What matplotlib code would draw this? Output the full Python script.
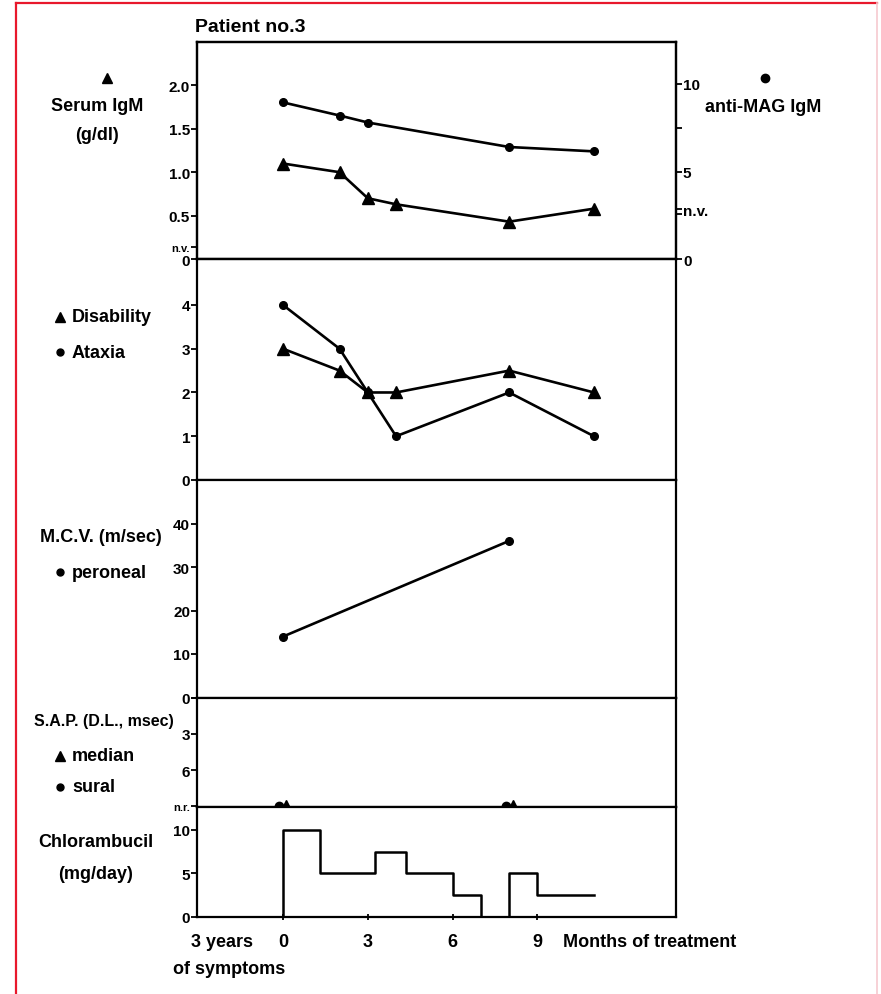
import numpy as np
import matplotlib
matplotlib.use("Agg")
import matplotlib.pyplot as plt
from matplotlib.lines import Line2D
from matplotlib.transforms import ScaledTranslation

plt.rcParams['font.family'] = ['Liberation Sans Narrow', 'Liberation Sans', 'DejaVu Sans']
plt.rcParams['font.weight'] = 'bold'

# ---------------- data ----------------
title = "Patient no.3"
months_igm = [0, 2, 3, 4, 8, 11]
serum_igm = [1.10, 1.00, 0.70, 0.63, 0.43, 0.58]          # g/dl (left axis)
months_mag = [0, 2, 3, 8, 11]
anti_mag = [8.95, 8.2, 7.8, 6.4, 6.15]                     # right axis
months_clin = [0, 2, 3, 4, 8, 11]
disability = [3, 2.5, 2, 2, 2.5, 2]
ataxia = [4, 3, 2, 1, 2, 1]
months_mcv = [0, 8]
mcv_peroneal = [14, 36]
months_sap = [0, 8]
NR_VALUE = 9                                               # "n.r." position on SAP scale
sap_median = [NR_VALUE, NR_VALUE]
sap_sural = [NR_VALUE, NR_VALUE]
chlor_edges = [0, 1.3, 3.25, 4.35, 6, 7, 8, 9, 11]
chlor_dose = [10, 5, 7.5, 5, 2.5, 0, 5, 2.5]
x_ticks = [0, 3, 6, 9]
x_ticklabels = ["0", "3", "6", "9"]

# ---------------- figure ----------------
W, H = 881, 995
fig = plt.figure(figsize=(W / 100, H / 100), dpi=100)

L, R = 197, 676
bounds = [(43, 260), (260, 481), (481, 698.5), (698.5, 808), (808, 918)]

def fx(x):
    return x / W

def fy(y):
    return 1 - y / H

axes = []
for top, bot in bounds:
    ax = fig.add_axes([fx(L), fy(bot), fx(R) - fx(L), fy(top) - fy(bot)])
    for s in ax.spines.values():
        s.set_linewidth(1.6)
    ax.set_xlim(-3.04, 13.9)
    ax.set_xticks([])
    ax.tick_params(axis='y', direction='out', length=4, width=1.3, labelsize=11, pad=1)
    axes.append(ax)

lw = 1.9
kw_tri = dict(marker='^', markersize=8, color='black', lw=lw)
kw_cir = dict(marker='o', markersize=5.5, color='black', lw=lw)

# Panel 1 : serum IgM + anti-MAG
ax1 = axes[0]
ax1.set_ylim(0, 2.5)
ax1.set_yticks([0, 0.14, 0.5, 1.0, 1.5, 2.0])
ax1.set_yticklabels(["0", "n.v.", "0.5", "1.0", "1.5", "2.0"])
ax1.get_yticklabels()[1].set_fontsize(8)
ax1.plot(months_igm, serum_igm, **kw_tri)
ax1r = ax1.twinx()
ax1r.set_ylim(0, 12.4)
ax1r.set_yticks([0, 2.85, 5, 7.5, 10])
ax1r.set_yticklabels(["0", "n.v.", "5", "", "10"])
ax1r.get_yticklabels()[1].set_fontsize(8)
ax1r.set_yticks([2.55], minor=True)
ax1r.tick_params(axis='y', which='both', direction='out', length=4, width=1.3, labelsize=11, pad=1)
for s in ax1r.spines.values():
    s.set_linewidth(1.6)
ax1r.plot(months_mag, anti_mag, **kw_cir)

# Panel 2 : disability / ataxia
ax2 = axes[1]
ax2.set_ylim(0, 5.05)
ax2.set_yticks([0, 1, 2, 3, 4])
ax2.plot(months_clin, disability, **kw_tri)
ax2.plot(months_clin, ataxia, **kw_cir)

# Panel 3 : MCV
ax3 = axes[2]
ax3.set_ylim(0, 50)
ax3.set_yticks([0, 10, 20, 30, 40])
ax3.plot(months_mcv, mcv_peroneal, **kw_cir)

# Panel 4 : SAP (inverted, n.r. at bottom)
ax4 = axes[3]
ax4.set_ylim(NR_VALUE + 0.05, 0)
ax4.set_yticks([0, 3, 6, NR_VALUE])
ax4.set_yticklabels(["", "3", "6", "n.r."])
ax4.get_yticklabels()[3].set_fontsize(8)
off_l = ScaledTranslation(-3.5 / 100, 0, fig.dpi_scale_trans)
off_r = ScaledTranslation(3.5 / 100, 0, fig.dpi_scale_trans)
ax4.plot(months_sap, sap_sural, ls='none', marker='o', markersize=6, color='black',
         transform=ax4.transData + off_l)
ax4.plot(months_sap, sap_median, ls='none', marker='^', markersize=8, color='black',
         transform=ax4.transData + off_r)

# Panel 5 : chlorambucil
ax5 = axes[4]
ax5.set_ylim(0, 12.6)
ax5.set_yticks([0, 5, 10])
xs = np.r_[chlor_edges[0], chlor_edges]
ys = np.r_[0, chlor_dose, chlor_dose[-1]]
ax5.plot(xs, ys, drawstyle='steps-post', color='black', lw=1.8)
ax5.set_xticks(x_ticks)
ax5.set_xticklabels(x_ticklabels, fontsize=13)
ax5.tick_params(axis='x', direction='inout', length=5, width=1.3, pad=9)

# ---------------- text labels ----------------
def t(x, y, s, size=13, ha='center', va='center'):
    fig.text(fx(x), fy(y), s, fontsize=size, ha=ha, va=va, fontweight='bold')

def mk(x, y, m, ms):
    fig.add_artist(Line2D([fx(x)], [fy(y)], marker=m, markersize=ms, color='black',
                          ls='none', transform=fig.transFigure))

t(195, 28, title, size=14, ha='left')
mk(107, 79, '^', 7)
t(97, 107, "Serum IgM")
t(97, 136, "(g/dl)")
mk(765, 79, 'o', 6)
t(763, 108, "anti-MAG IgM")

mk(60, 318, '^', 7)
t(72, 318, "Disability", ha='left')
mk(60, 353, 'o', 5)
t(72, 353, "Ataxia", ha='left')

t(40, 537, "M.C.V. (m/sec)", ha='left')
mk(60, 573, 'o', 5)
t(72, 573, "peroneal", ha='left')

t(34, 722, "S.A.P. (D.L., msec)", size=11.5, ha='left')
mk(60, 757, '^', 7)
t(72, 757, "median", ha='left')
mk(60, 788, 'o', 5)
t(72, 788, "sural", ha='left')

t(96, 843, "Chlorambucil")
t(96, 875, "(mg/day)")

t(222, 943, "3 years")
t(229, 970, "of symptoms")
t(563, 943, "Months of treatment", ha='left')

# red frame
fig.add_artist(Line2D([fx(16), fx(16)], [fy(995), fy(4)], color='#e8182c', lw=1.6,
                      transform=fig.transFigure))
fig.add_artist(Line2D([fx(16), fx(877)], [fy(4), fy(4)], color='#e8182c', lw=1.6,
                      transform=fig.transFigure))
fig.add_artist(Line2D([fx(877), fx(877)], [fy(4), fy(995)], color='#f6c9cf', lw=1.2,
                      transform=fig.transFigure))

fig.savefig("out.png", dpi=100)
